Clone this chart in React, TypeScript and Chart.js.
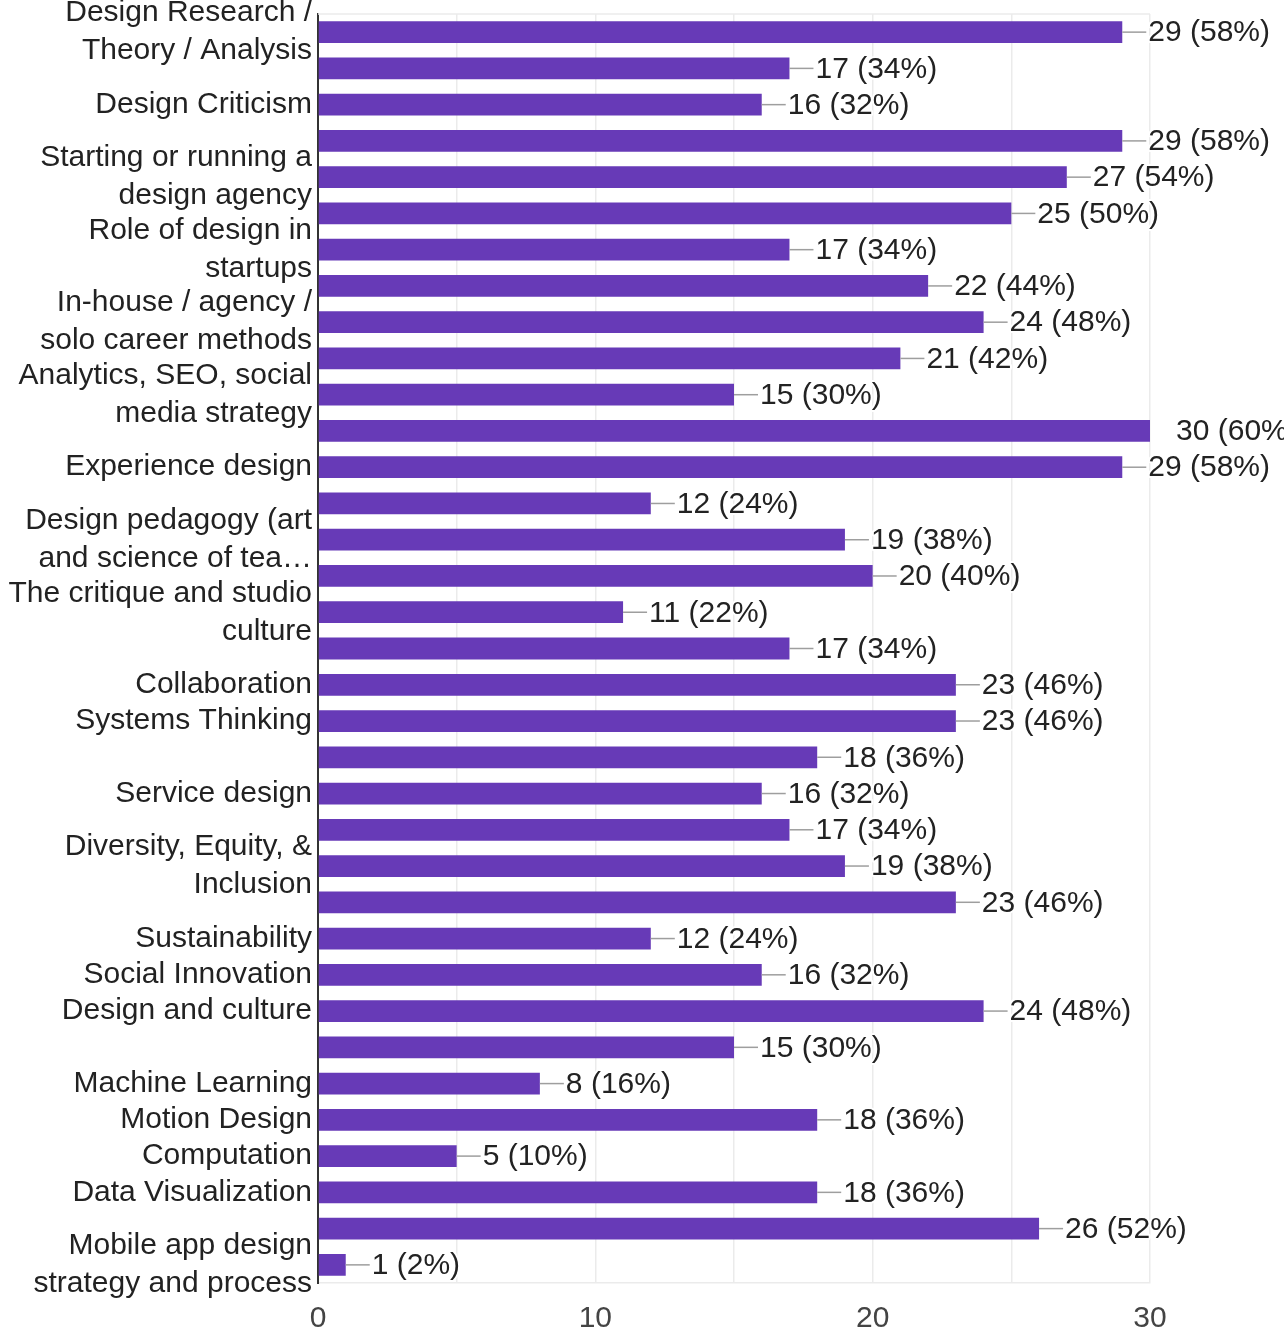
import React, { useEffect, useRef } from "react";
import { Chart, registerables } from "chart.js";

Chart.register(...registerables);

const categories: (string | string[])[] = [
  ["Design Research /", "Theory / Analysis"],
  "",
  "Design Criticism",
  "",
  ["Starting or running a", "design agency"],
  "",
  ["Role of design in", "startups"],
  "",
  ["In-house / agency /", "solo career methods"],
  "",
  ["Analytics, SEO, social", "media strategy"],
  "",
  "Experience design",
  "",
  ["Design pedagogy (art", "and science of tea…"],
  "",
  ["The critique and studio", "culture"],
  "",
  "Collaboration",
  "Systems Thinking",
  "",
  "Service design",
  "",
  ["Diversity, Equity, &", "Inclusion"],
  "",
  "Sustainability",
  "Social Innovation",
  "Design and culture",
  "",
  "Machine Learning",
  "Motion Design",
  "Computation",
  "Data Visualization",
  "",
  ["Mobile app design", "strategy and process"],
];

const counts: number[] = [
  29, 17, 16, 29, 27, 25, 17, 22, 24, 21, 15, 30, 29, 12, 19, 20, 11, 17, 23, 23,
  18, 16, 17, 19, 23, 12, 16, 24, 15, 8, 18, 5, 18, 26, 1,
];

const respondents = 50;
const xTickValues: number[] = [0, 10, 20, 30];

const FONT = "'Liberation Sans', Arial, sans-serif";

const valueLabelPlugin = {
  id: "valueLabels",
  afterDatasetsDraw(chart: any) {
    const { ctx, chartArea } = chart;
    const meta = chart.getDatasetMeta(0);
    ctx.save();
    // top border of plot area
    ctx.strokeStyle = "#ebebeb";
    ctx.lineWidth = 1.5;
    ctx.beginPath();
    ctx.moveTo(chartArea.left, chartArea.top);
    ctx.lineTo(chartArea.right, chartArea.top);
    ctx.stroke();
    meta.data.forEach((bar: any, i: number) => {
      const x = bar.x;
      const y = bar.y;
      // leader line, clipped to plot area
      ctx.save();
      ctx.beginPath();
      ctx.rect(chartArea.left, chartArea.top, chartArea.right - chartArea.left, chartArea.bottom - chartArea.top);
      ctx.clip();
      ctx.strokeStyle = "#9e9e9e";
      ctx.lineWidth = 1.5;
      ctx.beginPath();
      ctx.moveTo(x, y);
      ctx.lineTo(x + 24, y);
      ctx.stroke();
      ctx.restore();
      const v = counts[i];
      const pct = Math.round((v / respondents) * 100);
      const text = `${v} (${pct}%)`;
      ctx.font = `30px ${FONT}`;
      ctx.textAlign = "left";
      ctx.textBaseline = "middle";
      ctx.lineJoin = "round";
      ctx.strokeStyle = "#ffffff";
      ctx.lineWidth = 4;
      ctx.strokeText(text, x + 26, y + 1);
      ctx.fillStyle = "#222222";
      ctx.fillText(text, x + 26, y + 1);
    });
    ctx.restore();
  },
};

export default function App() {
  const canvasRef = useRef<HTMLCanvasElement | null>(null);

  useEffect(() => {
    if (!canvasRef.current) return;
    const chart = new Chart(canvasRef.current, {
      type: "bar",
      data: {
        labels: categories,
        datasets: [
          {
            data: counts,
            backgroundColor: "#673ab7",
            borderWidth: 0,
            barPercentage: 0.6,
            categoryPercentage: 1,
          },
        ],
      },
      options: {
        indexAxis: "y",
        animation: false,
        responsive: false,
        devicePixelRatio: 1,
        layout: { padding: { top: 14, right: 134, left: 0, bottom: 0 } },
        plugins: {
          legend: { display: false },
          tooltip: { enabled: false },
        },
        scales: {
          x: {
            min: 0,
            max: 30,
            grid: { color: "#ebebeb", lineWidth: 1.5, drawTicks: false },
            border: { color: "#ebebeb", width: 1.5 },
            ticks: {
              stepSize: 5,
              autoSkip: false,
              maxRotation: 0,
              padding: 18,
              color: "#444444",
              font: { family: FONT, size: 30 },
              callback: (v: any) => (xTickValues.includes(Number(v)) ? String(v) : ""),
            },
            afterFit: (scale: any) => {
              scale.height = 48;
              scale.paddingLeft = 0;
              scale.paddingRight = 0;
            },
          },
          y: {
            grid: { display: false, drawTicks: false },
            border: { color: "#333333", width: 2 },
            ticks: {
              autoSkip: false,
              padding: 6,
              color: "#222222",
              font: { family: FONT, size: 30, lineHeight: 1.267 },
            },
            afterFit: (scale: any) => {
              scale.width = 318;
              scale.paddingTop = 0;
              scale.paddingBottom = 0;
            },
          },
        },
      },
      plugins: [valueLabelPlugin],
    });
    return () => chart.destroy();
  }, []);

  return (
    <div style={{ position: "absolute", left: 0, top: 0, width: 1284, height: 1331, background: "#fff" }}>
      <canvas ref={canvasRef} width={1284} height={1331} style={{ width: 1284, height: 1331, display: "block" }} />
    </div>
  );
}
